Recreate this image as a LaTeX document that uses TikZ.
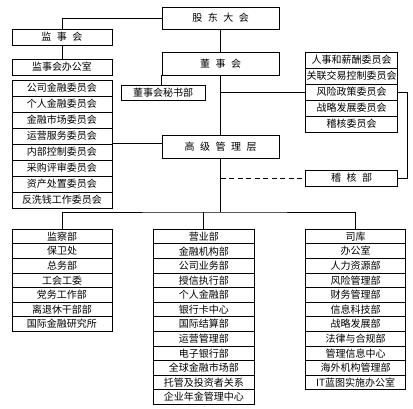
\documentclass[tikz,border=0pt]{standalone}
\usepackage{fontspec}
\newfontfamily\cjk{Noto Sans CJK SC}
\newcommand{\widespace}{\spaceskip=5.5pt\relax}
\tikzset{
  unit/.style={draw, line width=0.8pt, inner sep=0pt, font=\cjk\fontsize{10}{12}\selectfont},
  head/.style={unit, font={\cjk\fontsize{10}{12}\selectfont\widespace}},
}

\begin{document}
\begin{tikzpicture}[x=1pt,y=-1pt]
		\useasboundingbox (0,0) rectangle (413,409);
		\def\rowh{16}
		\def\rowb{14.58}
		% main line
		\node[head, minimum width=117pt, minimum height=22pt] (gd) at (220.5,18) {股 东 大 会};
		\node[head, minimum width=117pt, minimum height=23pt] (dsh) at (220.5,63.5) {董 事 会};
		\node[head, minimum width=117pt, minimum height=23pt] (gjgl) at (220.5,146.5) {高 级 管 理 层};
		\node[head, minimum width=100pt, minimum height=16pt] (jsh) at (62,37) {监 事 会};
		\node[unit, minimum width=100pt, minimum height=16pt] (jsbgs) at (62,67) {监事会办公室};
		\node[unit, minimum width=84pt, minimum height=14.3pt] (msb) at (163,92.8) {董事会秘书部};
		\node[head, minimum width=92pt, minimum height=16pt] (jhb) at (351.7,178) {稽 核 部};
		% committees
		\foreach \name [count=\i] in {公司金融委员会,个人金融委员会,金融市场委员会,运营服务委员会,内部控制委员会,采购评审委员会,资产处置委员会,反洗钱工作委员会}
			\node[unit, minimum width=100pt, minimum height=\rowh pt] (lc-\i) at (62,{80+(\i-0.5)*\rowh}) {\name};
		\foreach \name [count=\i] in {人事和薪酬委员会,关联交易控制委员会,风险政策委员会,战略发展委员会,稽核委员会}
			\node[unit, minimum width=92pt, minimum height=\rowh pt] (rc-\i) at (351.7,{52+(\i-0.5)*\rowh}) {\name};
		% departments
		\foreach \name [count=\i] in {监察部,保卫处,总务部,工会工委,党务工作部,离退休干部部,国际金融研究所}
			\node[unit, minimum width=100pt, minimum height=\rowb pt] (bl-\i) at (62,{229.3+(\i-0.5)*\rowb}) {\name};
		\foreach \name [count=\i] in {营业部,金融机构部,公司业务部,授信执行部,个人金融部,银行卡中心,国际结算部,运营管理部,电子银行部,全球金融市场部,托管及投资者关系,企业年金管理中心}
			\node[unit, minimum width=101pt, minimum height=\rowb pt] (bm-\i) at (203.8,{229.3+(\i-0.5)*\rowb}) {\name};
		\foreach \name [count=\i] in {司库,办公室,人力资源部,风险管理部,财务管理部,信息科技部,战略发展部,法律与合规部,管理信息中心,海外机构管理部,IT蓝图实施办公室}
			\node[unit, minimum width=100pt, minimum height=\rowb pt] (br-\i) at (355.7,{229.3+(\i-0.5)*\rowb}) {\name};
		% connectors
		\begin{scope}[line width=0.8pt]
			\draw (gd.west) -| (jsh.north);
			\draw (jsh.south) -- (jsbgs.north);
			\draw (gd.south) -- (dsh.north);
			\draw (dsh.south) -- (gjgl.north);
			\draw (dsh.south west) -- (dsh.south west |- msb.north);
			\draw (dsh.south |- rc-3.west) -- (rc-3.west);
			\draw (rc-3.east) -- ++(9,0) |- (jhb.east);
			\draw[dash pattern=on 5pt off 3.5pt] (gjgl.south |- jhb.west) -- (jhb.west);
			\draw (gjgl.west |- lc-5.north east) -- (lc-5.north east);
			\draw[line width=1.6pt] (lc-5.north east) -- (lc-6.east);
			\coordinate (bus) at (220.5,212);
			\draw (gjgl.south) -- (bus);
			\draw (bl-1.north) |- (bus) -| (br-1.north);
			\draw (bm-1.north) -- (bm-1.north |- bus);
		\end{scope}
	\end{tikzpicture}
\end{document}
